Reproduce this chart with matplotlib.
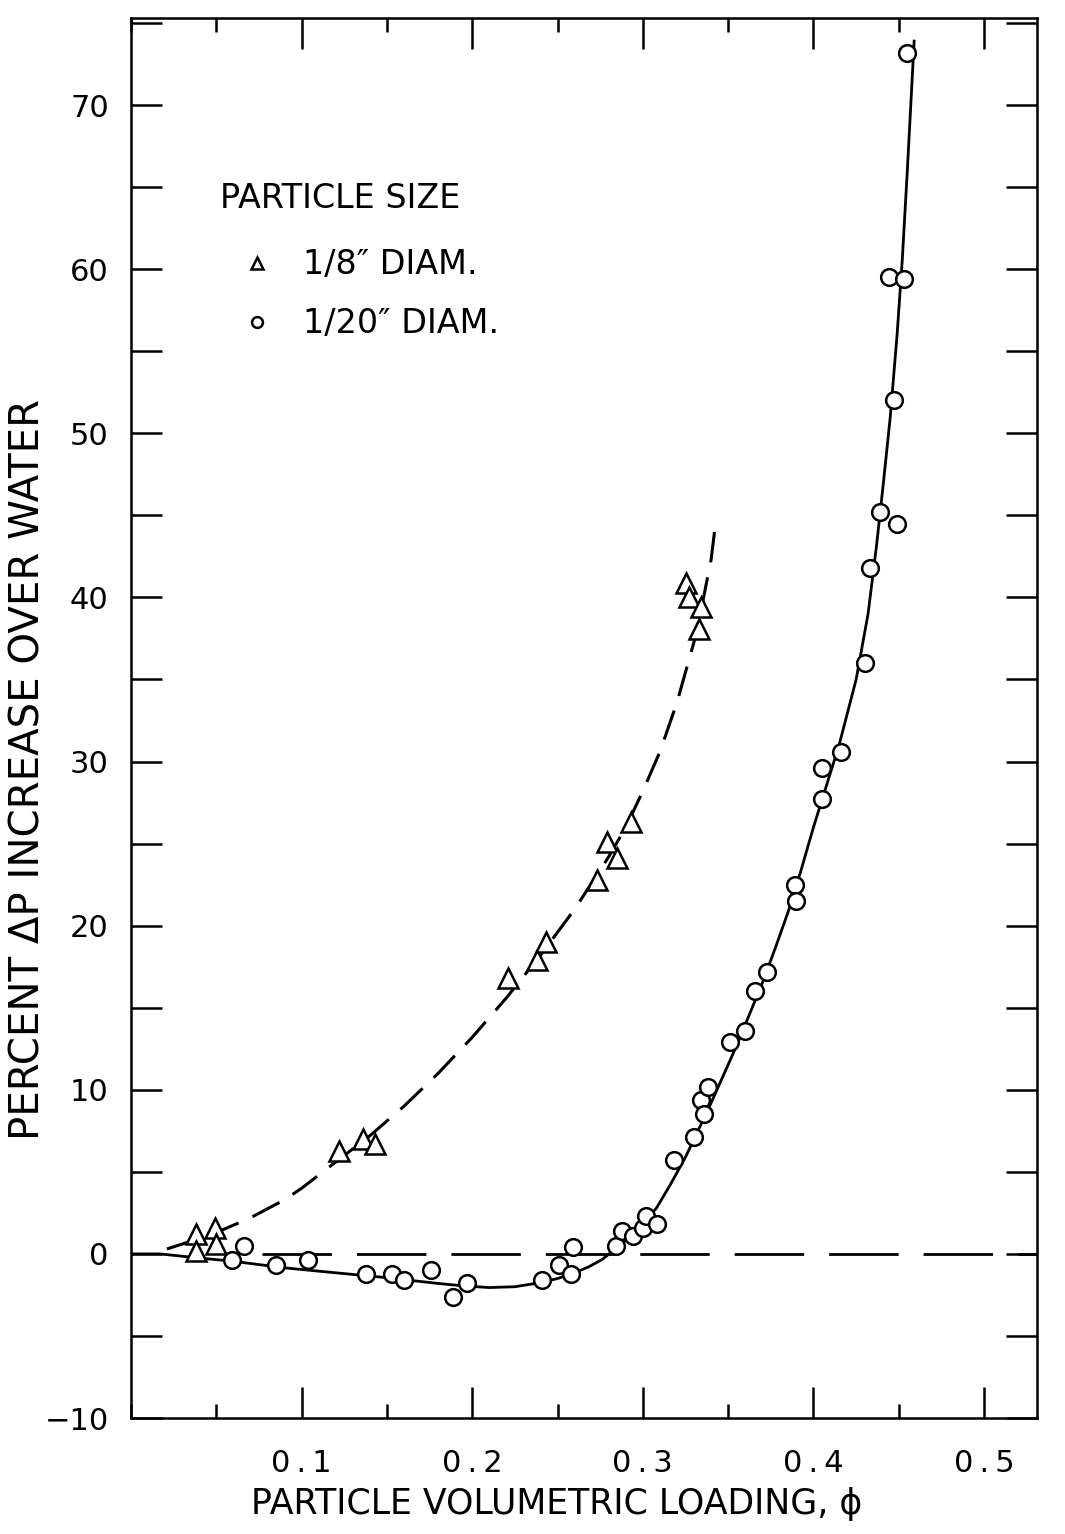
import matplotlib
matplotlib.use("Agg")
import matplotlib.pyplot as plt
from matplotlib.ticker import MultipleLocator, FixedLocator, FixedFormatter

# ---------------------------------------------------------------------
# Data
# ---------------------------------------------------------------------
# 1/8" diameter particles (triangles)
tri_x = [0.038, 0.049, 0.038, 0.050, 0.122, 0.136, 0.143, 0.221, 0.238, 0.243,
         0.273, 0.279, 0.285, 0.293, 0.325, 0.327, 0.334, 0.333]
tri_y = [1.2, 1.6, 0.2, 0.6, 6.3, 7.0, 6.7, 16.8, 17.9, 19.0,
         22.8, 25.1, 24.1, 26.3, 40.9, 40.0, 39.4, 38.1]

# 1/20" diameter particles (circles)
circ_x = [0.059, 0.066, 0.085, 0.104, 0.138, 0.153, 0.160, 0.176, 0.189, 0.197,
          0.241, 0.251, 0.258, 0.259, 0.284, 0.288, 0.294, 0.300, 0.302, 0.308,
          0.318, 0.330, 0.334, 0.336, 0.338, 0.351, 0.360, 0.366, 0.373, 0.389,
          0.390, 0.405, 0.405, 0.416, 0.430, 0.433, 0.439, 0.449, 0.447, 0.444,
          0.453, 0.455]
circ_y = [-0.4, 0.5, -0.7, -0.4, -1.2, -1.2, -1.6, -1.0, -2.6, -1.8,
          -1.6, -0.7, -1.2, 0.4, 0.5, 1.4, 1.1, 1.6, 2.3, 1.8,
          5.7, 7.1, 9.4, 8.5, 10.2, 12.9, 13.6, 16.0, 17.2, 22.5,
          21.5, 27.7, 29.6, 30.6, 36.0, 41.8, 45.2, 44.5, 52.0, 59.5,
          59.4, 73.2]

# hand-drawn curves through the data
fit8_x = [0.021, 0.03, 0.05, 0.07, 0.09, 0.10, 0.12, 0.14, 0.16, 0.18, 0.20,
          0.22, 0.24, 0.26, 0.28, 0.29, 0.30, 0.31, 0.32, 0.33, 0.335, 0.34, 0.342]
fit8_y = [0.3, 0.6, 1.3, 2.2, 3.3, 4.0, 5.6, 7.2, 9.0, 11.0, 13.2,
          15.6, 18.2, 21.0, 24.2, 26.0, 28.2, 30.6, 33.6, 37.3, 39.7, 42.3, 44.0]

fit20_x = [0.0, 0.017, 0.04, 0.06, 0.09, 0.12, 0.15, 0.18, 0.195, 0.21, 0.225,
           0.24, 0.25, 0.26, 0.268, 0.276, 0.284, 0.292, 0.30, 0.308, 0.316,
           0.325, 0.34, 0.355, 0.3625, 0.37, 0.3775, 0.385, 0.3925, 0.40, 0.4075,
           0.415, 0.425, 0.432, 0.437, 0.441, 0.445, 0.449, 0.452, 0.455, 0.459]
fit20_y = [0.0, 0.0, -0.25, -0.45, -0.85, -1.15, -1.45, -1.8, -1.95, -2.05, -2.0,
           -1.75, -1.5, -1.15, -0.8, -0.35, 0.3, 1.0, 1.8, 2.8, 4.2,
           5.9, 9.2, 12.7, 14.6, 16.5, 18.6, 20.8, 23.3, 26.0, 28.5,
           31.0, 35.0, 39.0, 43.2, 47.0, 51.0, 56.0, 60.5, 66.0, 73.9]

# water baseline (0 %)
base_x = [0.077, 0.531]
base_y = [0.0, 0.0]

x_ticks = [0.1, 0.2, 0.3, 0.4, 0.5]
x_ticklabels = ["0\u2009.\u20091", "0\u2009.\u20092", "0\u2009.\u20093",
                "0\u2009.\u20094", "0\u2009.\u20095"]
y_ticks = [-10, 0, 10, 20, 30, 40, 50, 60, 70]

legend_labels = ["1/8\u2033 DIAM.", "1/20\u2033 DIAM."]

# ---------------------------------------------------------------------
# Plot
# ---------------------------------------------------------------------
plt.rcParams["font.family"] = ["DejaVu Sans"]

fig = plt.figure(figsize=(10.65, 15.34), dpi=100)
ax = fig.add_axes([0.1230, 0.0756, 0.8507, 0.9126])

ax.plot(base_x, base_y, color="black", linewidth=2, dashes=(25, 9))
ax.plot(fit8_x, fit8_y, color="black", linewidth=2.2, dashes=(10, 5))
ax.plot(fit20_x, fit20_y, color="black", linewidth=2)

tri, = ax.plot(tri_x, tri_y, linestyle="none", marker="^", markersize=14,
               markerfacecolor="white", markeredgecolor="black",
               markeredgewidth=1.8)
circ, = ax.plot(circ_x, circ_y, linestyle="none", marker="o", markersize=12,
                markerfacecolor="white", markeredgecolor="black",
                markeredgewidth=1.8)

ax.set_xlim(0, 0.531)
ax.set_ylim(-10, 75.3)

ax.xaxis.set_major_locator(FixedLocator(x_ticks))
ax.xaxis.set_major_formatter(FixedFormatter(x_ticklabels))
ax.xaxis.set_minor_locator(MultipleLocator(0.05))
ax.yaxis.set_major_locator(FixedLocator(y_ticks))
ax.yaxis.set_minor_locator(MultipleLocator(5))

ax.tick_params(axis="x", which="major", direction="in", length=22, width=1.8,
               top=True, labelsize=22, pad=22)
ax.tick_params(axis="x", which="minor", direction="in", length=10, width=1.8,
               top=True)
ax.tick_params(axis="y", which="both", direction="in", length=22, width=1.8,
               right=True, labelsize=22, pad=16)

for sp in ax.spines.values():
    sp.set_linewidth(1.8)

ax.set_xlabel("PARTICLE VOLUMETRIC LOADING, \u03d5", fontsize=25)
ax.xaxis.set_label_coords(0.47, -0.049)
ax.set_ylabel("PERCENT \u0394P INCREASE OVER WATER", fontsize=29)
ax.yaxis.set_label_coords(-0.091, 0.463)

ax.text(0.098, 0.871, "PARTICLE SIZE", transform=ax.transAxes,
        fontsize=24, va="center", ha="left")
ax.legend([tri, circ], legend_labels, loc="upper left",
          bbox_to_anchor=(0.121, 0.8355), frameon=False, fontsize=24,
          markerscale=0.65, handlelength=1.0, handletextpad=0.88,
          labelspacing=0.78, borderpad=0, borderaxespad=0)

fig.savefig("out.png", dpi=100)
